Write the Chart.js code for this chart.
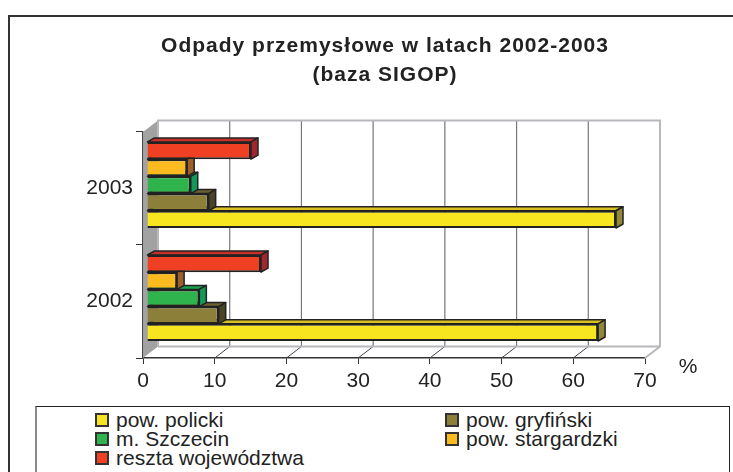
<!DOCTYPE html>
<html lang="pl">
<head>
<meta charset="utf-8">
<title>Odpady przemysłowe</title>
<script src="https://cdn.jsdelivr.net/npm/chart.js@4"></script>
<style>
  html, body { margin: 0; padding: 0; background: #fff; overflow: hidden; }
  #page { position: relative; width: 733px; height: 472px; overflow: hidden; font-family: "Liberation Sans", sans-serif; color: #222; }
  #frame { position: absolute; left: 8px; top: 15px; width: 800px; height: 500px; border-left: 2px solid #333; border-top: 2px solid #333; }
  canvas { position: absolute; left: 0; top: 0; }
  #legendBox { position: absolute; left: 35px; top: 406px; width: 692px; height: 100px; background: #fff; border-top: 1px solid #222; border-right: 1px solid #222; border-left: 2px solid #888; }
  .item { position: absolute; font-size: 21px; line-height: 19px; white-space: nowrap; }
  .swatch { position: absolute; left: -21px; top: 3px; width: 10px; height: 10px; border: 2px solid #333; }
</style>
</head>
<body>
<div id="page">
  <div id="frame"></div>
  <canvas id="wasteChart" width="733" height="472"></canvas>
  <div id="legendBox"></div>
</div>
<script>
const years = ['2003', '2002'];
const titleLines = ['Odpady przemysłowe w latach 2002-2003', '(baza SIGOP)'];
const xTicks = [0, 10, 20, 30, 40, 50, 60, 70];

const seriesNames = ['pow. policki', 'pow. gryfiński', 'm. Szczecin', 'pow. stargardzki', 'reszta województwa'];
const policki = [65.4, 62.9];
const gryfinski = [8.6, 10.0];
const szczecin = [6.1, 7.3];
const stargardzki = [5.6, 4.2];
const reszta = [14.5, 15.9];

const frontColors = ['#f7e520', '#8b7f3a', '#2eb34d', '#fbbb20', '#ef4023'];
const topColors = ['#d8c020', '#6b6030', '#18a050', '#a8682a', '#c4302a'];
const sideColors = ['#93873a', '#4a4426', '#129a58', '#9a5f2a', '#a0282c'];

// legend goes under the chart, two columns like the original
const legendBox = document.getElementById('legendBox');
const legendSpots = [[79, 3], [429, 3], [79, 22], [429, 22], [79, 41]];
seriesNames.forEach((name, i) => {
  const item = document.createElement('div');
  item.className = 'item';
  item.style.left = legendSpots[i][0] + 'px';
  item.style.top = legendSpots[i][1] + 'px';
  item.innerHTML = `<span class="swatch" style="background:${frontColors[i]}"></span>${name}`;
  legendBox.appendChild(item);
});

const wallDepth = { x: 15, y: -11.5 };
const barDepth = { x: 7, y: -4 };
const barShift = { x: 4, y: -3.5 };

// side walls and back grid of the fake 3d box
const boxPlugin = {
  id: 'box',
  beforeDraw(chart) {
    const title = chart.titleBlock;
    if (title._spaced) return;
    const drawTitle = title.draw.bind(title);
    title.draw = () => {
      const ctx = chart.ctx;
      ctx.save();
      ctx.translate(62.5, 0);
      ctx.letterSpacing = '1px';
      drawTitle();
      ctx.restore();
    };
    title._spaced = true;
  },
  beforeDatasetsDraw(chart) {
    const { ctx, chartArea: a, scales: { x } } = chart;
    const dx = wallDepth.x, dy = wallDepth.y;
    ctx.save();

    ctx.fillStyle = '#a2a2a2';
    ctx.beginPath();
    ctx.moveTo(a.left, a.top);
    ctx.lineTo(a.left + dx, a.top + dy);
    ctx.lineTo(a.left + dx, a.bottom + dy);
    ctx.lineTo(a.left, a.bottom);
    ctx.closePath();
    ctx.fill();

    xTicks.slice(1, -1).forEach(v => {
      const px = x.getPixelForValue(v);
      ctx.strokeStyle = '#777';
      ctx.lineWidth = 1.2;
      ctx.beginPath();
      ctx.moveTo(px + dx, a.top + dy);
      ctx.lineTo(px + dx, a.bottom + dy);
      ctx.stroke();
      ctx.strokeStyle = '#444';
      ctx.lineWidth = 1;
      ctx.beginPath();
      ctx.moveTo(px, a.bottom);
      ctx.lineTo(px + dx, a.bottom + dy);
      ctx.stroke();
    });

    ctx.strokeStyle = '#b8b8bc';
    ctx.lineWidth = 2;
    ctx.beginPath();
    ctx.moveTo(a.left + dx, a.bottom + dy);
    ctx.lineTo(a.left + dx, a.top + dy);
    ctx.lineTo(a.right + dx, a.top + dy);
    ctx.lineTo(a.right + dx, a.bottom + dy);
    ctx.lineTo(a.right, a.bottom);
    ctx.moveTo(a.left + dx, a.bottom + dy);
    ctx.lineTo(a.right + dx, a.bottom + dy);
    ctx.stroke();
    ctx.restore();
  },
  beforeDatasetDraw(chart, args) {
    const { ctx } = chart;
    const ds = chart.data.datasets[args.index];
    ctx.save();
    ctx.translate(barShift.x, barShift.y);
    ctx.strokeStyle = '#222';
    ctx.lineWidth = 1.5;
    ctx.lineJoin = 'round';
    args.meta.data.forEach(bar => {
      const { x, y, base, height } = bar.getProps(['x', 'y', 'base', 'height']);
      const top = y - height / 2, bottom = y + height / 2;
      ctx.fillStyle = ds.topColor;
      ctx.beginPath();
      ctx.moveTo(base, top);
      ctx.lineTo(base + barDepth.x, top + barDepth.y);
      ctx.lineTo(x + barDepth.x, top + barDepth.y);
      ctx.lineTo(x, top);
      ctx.closePath();
      ctx.fill();
      ctx.stroke();
      ctx.fillStyle = ds.sideColor;
      ctx.beginPath();
      ctx.moveTo(x, top);
      ctx.lineTo(x + barDepth.x, top + barDepth.y);
      ctx.lineTo(x + barDepth.x, bottom + barDepth.y);
      ctx.lineTo(x, bottom);
      ctx.closePath();
      ctx.fill();
      ctx.stroke();
    });
  },
  afterDatasetDraw(chart) {
    chart.ctx.restore();
  },
  afterDraw(chart) {
    const { ctx } = chart;
    ctx.save();
    ctx.font = '21px "Liberation Sans"';
    ctx.fillStyle = '#222';
    ctx.textAlign = 'center';
    ctx.textBaseline = 'middle';
    ctx.fillText('%', 688, 367);
    ctx.restore();
  }
};

// index 0 is painted last by chart.js, so the red bar ends up on top
const stackOrder = [
  [4, reszta],
  [3, stargardzki],
  [2, szczecin],
  [1, gryfinski],
  [0, policki]
];

new Chart(document.getElementById('wasteChart'), {
  type: 'bar',
  plugins: [boxPlugin],
  data: {
    labels: years,
    datasets: stackOrder.map(([i, values]) => ({
      label: seriesNames[i],
      data: values,
      backgroundColor: frontColors[i],
      borderColor: '#222',
      borderWidth: 2,
      topColor: topColors[i],
      sideColor: sideColors[i],
      categoryPercentage: 0.761,
      barPercentage: 1,
      clip: false
    }))
  },
  options: {
    indexAxis: 'y',
    responsive: false,
    animation: false,
    layout: { padding: { left: 0, right: 88, top: 0, bottom: 84 } },
    plugins: {
      legend: { display: false },
      tooltip: { enabled: false },
      title: {
        display: true,
        text: titleLines,
        color: '#222',
        font: { family: '"Liberation Sans"', size: 21, weight: 'bold', lineHeight: 1.38 },
        padding: { top: 32, bottom: 42 }
      }
    },
    scales: {
      x: {
        min: 0,
        max: 70,
        afterBuildTicks: scale => { scale.ticks = xTicks.map(value => ({ value })); },
        afterFit: scale => { scale.height = 30; },
        grid: { drawOnChartArea: false, drawTicks: true, tickLength: 6, color: '#333', lineWidth: 1 },
        border: { display: true, color: '#333', width: 1.5 },
        ticks: { maxRotation: 0, padding: 5, color: '#222', font: { family: '"Liberation Sans"', size: 21 } }
      },
      y: {
        afterFit: scale => { scale.width = 143; },
        grid: { drawOnChartArea: false, drawTicks: true, tickLength: 7, color: '#333', lineWidth: 1 },
        border: { display: true, color: '#444', width: 1.5 },
        ticks: { padding: 3, color: '#222', font: { family: '"Liberation Sans"', size: 21 } }
      }
    }
  }
});
</script>
</body>
</html>
